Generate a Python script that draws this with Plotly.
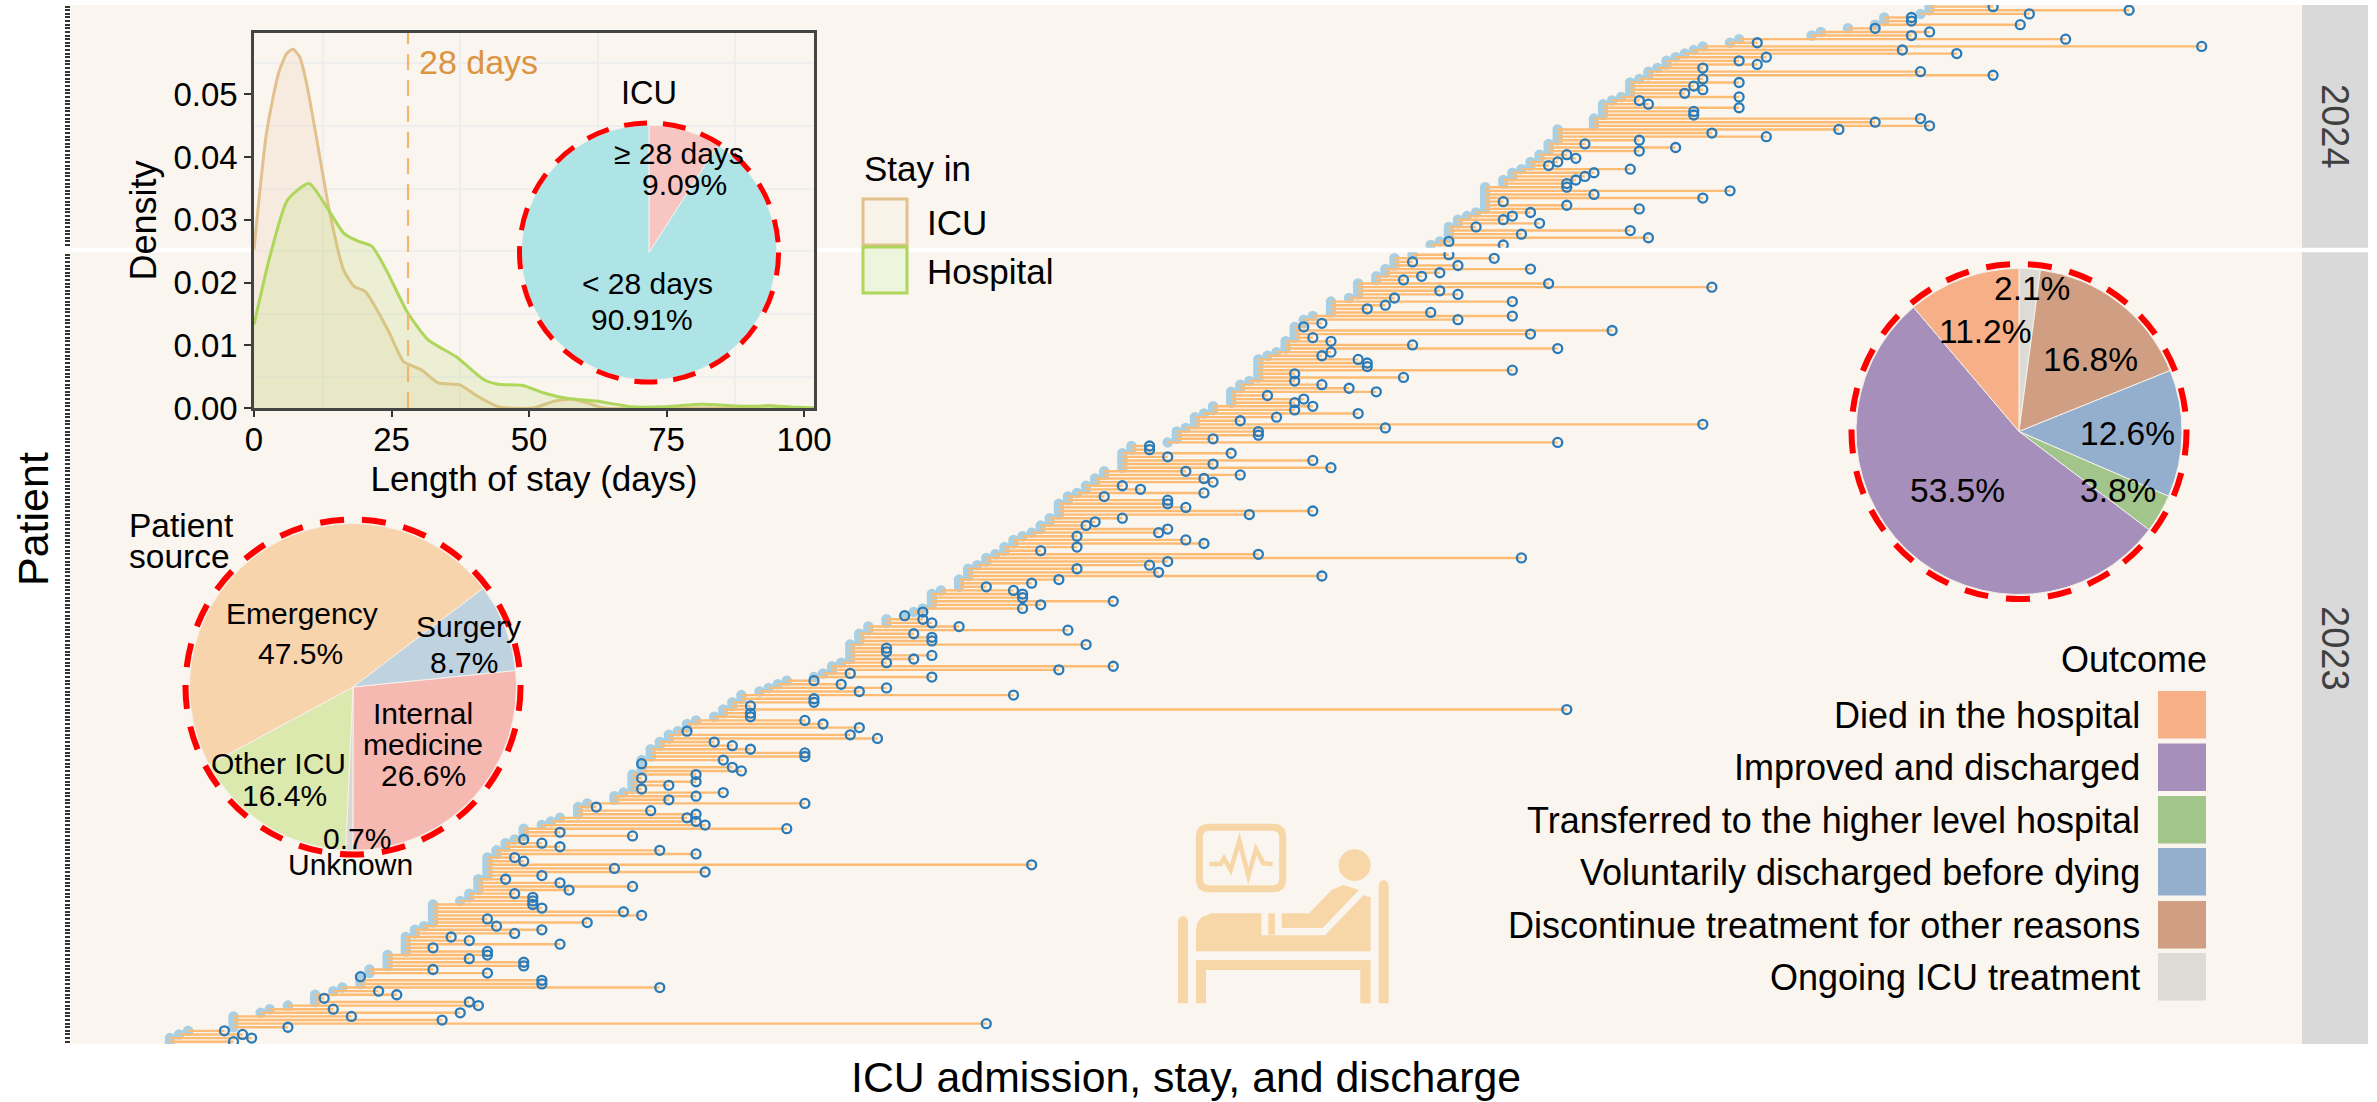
import plotly.graph_objects as go

W, H = 2377, 1102
FONT = "Liberation Sans"

# ---- patient stays, in days from the first admission, bottom row first ----
start_2023 = [0,0,1,2,7,7,7,7,10,11,
13,16,16,16,18,19,21,21,21,22,
22,24,24,24,24,26,26,26,26,26,
27,27,28,29,29,29,29,29,29,32,
33,33,34,34,34,34,35,35,35,35,
35,35,36,36,37,37,38,39,39,39,
41,42,43,45,45,45,46,49,49,50,
51,51,51,51,51,52,52,52,52,53,
53,53,54,54,55,55,56,57,57,58,
60,61,61,62,62,63,63,65,66,67,
68,71,72,73,73,74,75,75,75,75,
75,76,76,76,77,77,79,79,81,82,
83,84,84,84,84,85,87,87,87,88,
88,88,89,90,90,91,92,92,93,93,
94,95,96,96,97,97,98,98,98,98,
99,99,100,101,101,102,102,103,103,105,
105,105,105,105,106,106,110,111,111,111,
112,113,113,113,114,115,115,117,117,117,
117,118,118,119,120,120,120,120,120,120,
121,122,123,123,123,124,124,124,124,125,
125,126,128,128,128,128,130,131,131,131,
131,133,133,134,134,135,135,135,137]
end_2023 = [7,9,8,6,13,90,30,20,32,18,
34,33,17,25,23,54,41,41,21,35,
29,39,39,33,35,35,29,43,33,31,
38,41,36,46,35,52,50,41,40,40,
40,38,44,51,43,37,41,59,49,95,
39,38,58,54,43,41,39,51,43,68,
59,58,57,58,53,47,70,55,58,61,
52,55,58,52,58,63,62,52,61,70,
70,64,62,60,78,75,57,76,72,70,
64,64,154,64,71,71,93,76,79,74,
71,84,75,98,104,79,82,84,79,79,
101,84,84,82,99,87,84,83,81,83,
94,96,104,94,94,93,90,95,98,127,
109,100,108,110,149,120,96,100,114,112,
100,109,110,101,102,105,119,126,112,110,
110,103,114,107,105,115,114,118,112,128,
115,126,110,117,108,108,153,115,120,120,
134,169,118,122,131,124,126,124,125,121,
133,130,127,124,136,124,148,132,132,131,
127,128,153,137,128,126,150,159,125,127,
142,148,139,132,134,148,135,142,140,170,
152,136,138,140,150,142,137,146,141]
start_2024 = [139,140,141,141,141,141,142,142,143,144,
145,145,145,145,145,145,145,147,147,148,
148,149,150,150,151,151,152,152,152,153,
153,153,153,157,157,157,158,158,158,158,
159,160,161,161,161,161,162,163,163,164,
165,165,166,167,168,169,172,173,181,182,
185,188,189,189,193,194,194]
end_2024 = [147,141,163,149,161,144,151,147,148,150,
162,154,147,169,157,172,154,154,155,156,
157,161,152,153,155,154,162,166,156,162,
176,170,184,194,188,193,168,168,173,163,
162,173,167,169,168,173,169,201,193,169,
175,173,176,197,191,224,175,209,192,194,
188,204,192,192,205,216,201]

# ---- density curves ----
icu_x = [0,2.3,4.5,6,7.1,8.3,9.5,11.2,13.8,16.3,18.2,20.2,22,24.6,27.2,30.4,33.5,37.4,40.6,44.4,50.8,54.6,57.8,61,63.5,80,90,93.5,97,101.8]
icu_y = [0.0253,0.0440,0.0535,0.0566,0.0572,0.0560,0.0520,0.0439,0.0310,0.0220,0.0194,0.0186,0.0162,0.0120,0.0074,0.0061,0.0040,0.0037,0.0019,0.0002,0,0.0011,0.0014,0.0007,0,0,0,0.0004,0,0]
hosp_x = [0,2.9,6.1,10,13.1,16.3,18.9,21.4,24,27.8,31.6,36.7,41.8,44.4,48.9,52.7,57.1,62.2,68.6,75,81.4,87.8,94,99,101.8]
hosp_y = [0.0133,0.0242,0.0332,0.0358,0.0322,0.0279,0.0266,0.0258,0.0221,0.0154,0.0109,0.0082,0.0045,0.0038,0.0036,0.0024,0.0015,0.0011,0.0002,0.0002,0.0006,0.0003,0.0003,0.0001,0]
density_x_ticks = [0,25,50,75,100]
density_y_ticks = [0,0.01,0.02,0.03,0.04,0.05]
cutoff_days = 28

# ---- pies ----
icu_pie_labels = ["\u2265 28 days","< 28 days"]
icu_pie_values = [9.09,90.91]
icu_pie_colors = ["#F7C6C3","#AFE4E7"]
source_labels = ["Internal medicine","Unknown","Other ICU","Emergency","Surgery"]
source_values = [26.6,0.7,16.4,47.5,8.7]
source_colors = ["#F5B9B2","#D9D8D4","#DCE9AE","#F8D4AC","#BFD2E0"]
outcome_labels = ["Ongoing ICU treatment","Discontinue treatment for other reasons","Voluntarily discharged before dying",
                  "Transferred to the higher level hospital","Improved and discharged","Died in the hospital"]
outcome_values = [2.1,16.8,12.6,3.8,53.5,11.2]
outcome_colors = ["#DCDBD6","#D09F83","#93AFCD","#A2C58B","#A68FBA","#F7AF87"]
legend_order = [5,4,3,2,1,0]


def fx(p): return p / W
def fy(p): return 1 - p / H
def ann(text, x, y, size, color="black", xanchor="center", angle=0):
    return dict(text=text, x=fx(x), y=fy(y), xref="paper", yref="paper", showarrow=False,
                xanchor=xanchor, yanchor="middle", textangle=angle,
                font=dict(family=FONT, size=size, color=color))
def rect(x0, y0, x1, y1, fill, line=None, lw=0):
    return dict(type="rect", xref="paper", yref="paper", x0=fx(x0), x1=fx(x1), y0=fy(y0), y1=fy(y1),
                fillcolor=fill, line=dict(color=line or fill, width=lw), layer="above")
def ring(cx, cy, r, width=6, dash="24px,18px"):
    return dict(type="circle", xref="paper", yref="paper", x0=fx(cx-r), x1=fx(cx+r), y0=fy(cy+r), y1=fy(cy-r),
                line=dict(color="#FF0000", width=width, dash=dash), layer="above")

# icon points are given in a 3x grid anchored at (1160, 810)
def ip(a, b): return f"{fx(1160+a/3):.6f},{fy(810+b/3):.6f}"
def ipath(points, close=True):
    d = ""
    for i, (a, b) in enumerate(points):
        d += ("M" if i == 0 else "L") + ip(a, b) + " "
    return d + ("Z" if close else "")
ICON = "#F7D7A8"
def ishape(points, close=True, width=0):
    return dict(type="path", xref="paper", yref="paper", path=ipath(points, close), layer="above",
                fillcolor=ICON if close else "rgba(0,0,0,0)", line=dict(color=ICON, width=width))
monitor = (f"M{ip(148,52)} L{ip(338,52)} Q{ip(368,52)} {ip(368,82)} L{ip(368,206)} Q{ip(368,236)} {ip(338,236)} "
           f"L{ip(148,236)} Q{ip(118,236)} {ip(118,206)} L{ip(118,82)} Q{ip(118,52)} {ip(148,52)} Z")
icon = [
    dict(type="path", xref="paper", yref="paper", path=monitor, line=dict(color=ICON, width=7), layer="above"),
    ishape([(148,162),(182,162),(192,145),(212,180),(238,92),(265,198),(288,118),(310,160),(338,162)], False, 4.5),
    dict(type="circle", xref="paper", yref="paper", x0=fx(1160+536/3), x1=fx(1160+632/3), y0=fy(810+213/3), y1=fy(810+118/3),
         fillcolor=ICON, line=dict(width=0), layer="above"),
    ishape([(656,225),(660,215),(671,210),(682,215),(686,225),(686,580),(656,580)]),
    ishape([(54,333),(58,323),(69,318),(80,323),(84,333),(84,580),(54,580)]),
    ishape([(108,424),(108,360),(112,338),(125,322),(155,310),(304,310),(304,376),(495,376),(610,256),(632,262),(632,424)]),
    ishape([(325,310),(345,310),(345,374),(325,374)]),
    ishape([(365,310),(447,310),(515,240),(550,225),(597,240),(488,354),(365,354)]),
    ishape([(108,450),(632,450),(632,580),(601,580),(601,480),(138,480),(138,580),(108,580)]),
]

fig = go.Figure()

def add_panel(starts, ends, xa, ya):
    rows = list(range(len(starts)))
    fig.add_trace(go.Scatter(x=starts, y=rows, mode="markers", xaxis=xa, yaxis=ya, hoverinfo="skip",
                             marker=dict(color="#A9CFE3", size=10.5, line=dict(width=0))))
    lx, ly = [], []
    for r, s, e in zip(rows, starts, ends):
        lx += [s, e, None]; ly += [r, r, None]
    fig.add_trace(go.Scatter(x=lx, y=ly, mode="lines", xaxis=xa, yaxis=ya, hoverinfo="skip",
                             line=dict(color="#FDBB74", width=2.4)))
    fig.add_trace(go.Scatter(x=ends, y=rows, mode="markers", xaxis=xa, yaxis=ya, hoverinfo="skip",
                             marker=dict(symbol="circle-open", color="#2B7BB9", size=9, line=dict(width=2.3, color="#2B7BB9"))))

add_panel(start_2023, end_2023, "x", "y")
add_panel(start_2024, end_2024, "x2", "y2")

# density inset
fig.add_trace(go.Scatter(x=icu_x, y=icu_y, mode="lines", xaxis="x3", yaxis="y3", fill="tozeroy", name="ICU",
                         fillcolor="rgba(226,190,140,0.17)", line=dict(color="#E2C18F", width=3, shape="spline", smoothing=0.6)))
fig.add_trace(go.Scatter(x=hosp_x, y=hosp_y, mode="lines", xaxis="x3", yaxis="y3", fill="tozeroy", name="Hospital",
                         fillcolor="rgba(174,214,90,0.18)", line=dict(color="#AED65A", width=3, shape="spline", smoothing=0.6)))
fig.add_trace(go.Scatter(x=[cutoff_days, cutoff_days], y=[0, 0.0598], mode="lines", xaxis="x3", yaxis="y3",
                         line=dict(color="#F2B56B", width=2.2, dash="16px,10px")))

def add_pie(labels, values, colors, cx, cy, r, rotation):
    fig.add_trace(go.Pie(labels=labels, values=values, sort=False, direction="clockwise", rotation=rotation,
                         marker=dict(colors=colors, line=dict(color="#F4F0EA", width=1)), textinfo="none",
                         hoverinfo="skip", showlegend=False,
                         domain=dict(x=[fx(cx-r), fx(cx+r)], y=[fy(cy+r), fy(cy-r)])))

add_pie(icu_pie_labels, icu_pie_values, icu_pie_colors, 649, 252.5, 127.5, 0)
add_pie(source_labels, source_values, source_colors, 353, 687, 163.5, 84.2)
add_pie(outcome_labels, outcome_values, outcome_colors, 2019, 431.5, 163, 0)

BG = "#FAF5EE"
PX0, PX1 = 70.5, 2302
DAY0 = (PX0 - 170) / 9.07
DAY1 = (PX1 - 170) / 9.07
hidden_x = dict(range=[DAY0, DAY1], showgrid=False, zeroline=False, showticklabels=False, ticks="")
def main_y(rng, top, bottom):
    return dict(range=rng, domain=[fy(bottom), fy(top)], showgrid=False, zeroline=False, showticklabels=False,
                ticks="outside", ticklen=5, tickwidth=1.5, tickcolor="#333333", tick0=0, dtick=1,
                showline=False)

annotations = [
    ann("Patient", 33, 519, 43, angle=-90),
    ann("ICU admission, stay, and discharge", 1186, 1077, 42.8),
    ann("2024", 2335, 126, 38, "#404040", angle=90),
    ann("2023", 2335, 648, 38, "#404040", angle=90),
    ann("28 days", 417, 62, 34, "#DB9440", "left"),
    ann("ICU", 649, 93, 32.5),
    ann(icu_pie_labels[0], 679, 154, 30),
    ann(f"{icu_pie_values[0]:.2f}%", 684, 185, 30),
    ann(icu_pie_labels[1], 647, 283, 30),
    ann(f"{icu_pie_values[1]:.2f}%", 642, 319, 30),
    ann("Stay in", 862, 168, 35, xanchor="left"),
    ann("ICU", 925, 222, 35, xanchor="left"),
    ann("Hospital", 925, 271, 35, xanchor="left"),
    ann("Patient", 127, 526, 33.5, xanchor="left"),
    ann("source", 127, 556, 33.5, xanchor="left"),
    ann("Emergency", 302, 613, 30),
    ann("47.5%", 300, 653, 30),
    ann("Surgery", 468, 626, 30),
    ann("8.7%", 464, 662, 30),
    ann("Internal", 423, 713, 30),
    ann("medicine", 423, 744, 30),
    ann("26.6%", 423, 775, 30),
    ann("Other ICU", 278, 763, 30),
    ann("16.4%", 284, 795, 30),
    ann("0.7%", 357, 838, 30),
    ann("Unknown", 350, 864, 30),
    ann("2.1%", 2032, 288, 33.5),
    ann("11.2%", 1985, 331, 33.5),
    ann("16.8%", 2090, 359, 33.5),
    ann("12.6%", 2127, 434, 33.5),
    ann("3.8%", 2118, 490, 33.5),
    ann("53.5%", 1957, 490, 33.5),
    ann("Outcome", 2209, 659, 36, xanchor="right"),
]
shapes = [
    rect(2302, 5, 2368, 247.7, "#D9D9D9"),
    rect(2302, 252.3, 2368, 1044, "#D9D9D9"),
    rect(863, 199, 907, 245, "#F9F2E8", "#E2C18F", 3),
    rect(863, 247, 907, 293, "#EEF5DD", "#AED65A", 3),
    ring(649, 252.5, 129.5, 5, "23px,16px"),
    ring(353, 687, 167.5),
    ring(2019, 431.5, 167.5),
] + icon
legend_tops = [691, 743.5, 796, 848, 901, 953]
for top, idx in zip(legend_tops, legend_order):
    shapes.append(rect(2158, top, 2206, top + 47.5, outcome_colors[idx]))
    annotations.append(ann(outcome_labels[idx], 2142, top + 24, 36, xanchor="right"))

fig.update_layout(
    width=W, height=H, margin=dict(l=0, r=0, t=0, b=0, autoexpand=False), autosize=False,
    paper_bgcolor="white", plot_bgcolor=BG, showlegend=False,
    font=dict(family=FONT, color="black"),
    xaxis=dict(hidden_x, domain=[fx(PX0), fx(PX1)], anchor="y"),
    xaxis2=dict(hidden_x, domain=[fx(PX0), fx(PX1)], anchor="y2"),
    yaxis=main_y([-0.64, 218.66], 252.3, 1044),
    yaxis2=main_y([-0.75, 66.46], 5, 247.7),
    xaxis3=dict(domain=[fx(254), fx(814)], anchor="y3", range=[0, 101.8], tickvals=density_x_ticks,
                showgrid=False, zeroline=False, showline=True, mirror=True, linecolor="#444444", linewidth=2.5,
                ticks="outside", ticklen=6, tickwidth=2, tickcolor="#333333", tickfont=dict(size=33),
                ticklabelstandoff=-5,
                minor=dict(tick0=12.5, dtick=25, showgrid=True, gridcolor="#EEEEEE", gridwidth=1.5, ticks=""),
                title=dict(text="Length of stay (days)", font=dict(size=35), standoff=10)),
    yaxis3=dict(domain=[fy(408), fy(33)], anchor="x3", range=[0, 0.0598], tickvals=density_y_ticks, tickformat=".2f",
                showgrid=False, zeroline=False, showline=True, mirror=True, linecolor="#444444", linewidth=2.5,
                ticks="outside", ticklen=7, tickwidth=2, tickcolor="#333333", tickfont=dict(size=33),
                minor=dict(tick0=0.005, dtick=0.01, showgrid=True, gridcolor="#EEEEEE", gridwidth=1.5, ticks=""),
                title=dict(text="Density", font=dict(size=36), standoff=6)),
    annotations=annotations, shapes=shapes,
)

fig.write_html("out.html", post_script="document.body.style.margin='0';", config=dict(displayModeBar=False, responsive=False))
